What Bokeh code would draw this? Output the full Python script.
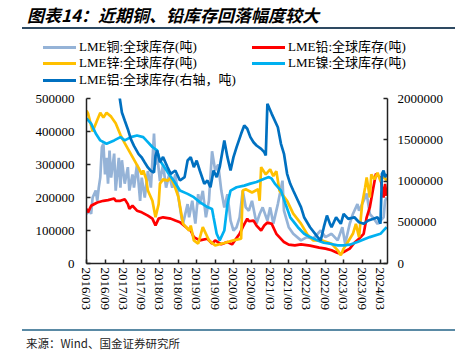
from datetime import datetime
from bokeh.plotting import figure
from bokeh.layouts import column
from bokeh.models import (Range1d, LinearAxis, FixedTicker, NumeralTickFormatter,
                          DatetimeTickFormatter, Div)
from bokeh.embed import file_html
from bokeh.resources import INLINE

# ---------------- data (thousand tonnes; aluminium on right axis) ----------------
copper_dates = ["2016-03-01","2016-04-01","2016-04-16","2016-05-01","2016-06-01","2016-06-16","2016-07-01","2016-07-16",
    "2016-08-01","2016-08-16","2016-09-01","2016-09-16","2016-10-01","2016-10-16","2016-11-01","2016-12-01","2016-12-16",
    "2017-01-16","2017-02-01","2017-02-16","2017-03-16","2017-04-16","2017-05-01","2017-06-01","2017-06-16","2017-07-16",
    "2017-08-16","2017-09-01","2017-10-01","2017-11-01","2017-12-01","2018-01-01","2018-01-16","2018-02-01","2018-03-01",
    "2018-04-01","2018-05-01","2018-06-01","2018-07-01","2018-08-01","2018-09-01","2018-10-01","2018-10-16","2018-12-01",
    "2018-12-16","2019-01-16","2019-02-16","2019-03-16","2019-04-01","2019-05-01","2019-06-01","2019-07-01","2019-08-01",
    "2019-09-01","2019-10-01","2019-11-01","2019-12-01","2020-01-01","2020-02-01","2020-03-01","2020-04-01","2020-05-01",
    "2020-06-01","2020-07-01","2020-08-01","2020-09-01","2020-10-16","2020-11-16","2020-12-16","2021-02-01","2021-03-01",
    "2021-04-01","2021-05-16","2021-07-01","2021-07-16","2021-09-01","2021-10-16","2022-01-01","2022-03-01","2022-05-01",
    "2022-07-16","2022-09-01","2022-11-01","2023-01-01","2023-02-16","2023-03-16","2023-05-01","2023-06-01","2023-07-16",
    "2023-08-01","2023-09-16","2023-10-16","2023-11-16","2023-12-16","2024-02-01","2024-03-01","2024-04-01","2024-04-16",
    "2024-05-01"]
copper_vals = [151,160,150,200,221,190,230,261,352,363,270,320,242,342,260,333,221,
    320,230,313,242,292,221,270,230,300,190,260,200,280,230,394,300,330,250,
    300,230,270,230,270,200,140,121,180,140,190,121,210,180,220,140,190,340,
    282,300,221,170,210,130,100,110,140,221,170,160,190,121,150,170,130,170,
    121,180,251,160,110,90,70,80,75,100,80,90,70,110,60,121,150,180,
    160,190,212,150,140,120,130,140,190,200]

lead_dates = ["2016-03-01","2016-03-16","2016-04-16","2016-06-16","2016-08-16","2016-10-01","2016-12-01","2016-12-16",
    "2017-02-01","2017-03-16","2017-04-16","2017-05-01","2017-06-01","2017-07-16","2017-09-01","2017-11-01","2017-12-16",
    "2018-01-16","2018-02-16","2018-04-01","2018-06-16","2018-08-01","2018-09-16","2018-12-01","2019-01-01","2019-02-01",
    "2019-04-01","2019-06-16","2019-08-01","2019-09-01","2019-11-01","2020-01-01","2020-02-16","2020-05-01","2020-06-01",
    "2020-07-16","2020-08-01","2020-09-16","2020-10-16","2020-12-01","2021-01-01","2021-02-01","2021-03-16","2021-05-01",
    "2021-07-16","2021-09-01","2021-11-01","2022-01-01","2022-04-01","2022-07-01","2022-09-01","2022-11-01","2023-01-01",
    "2023-02-01","2023-03-01","2023-05-01","2023-06-16","2023-08-01","2023-09-16","2023-10-16","2023-11-16","2023-12-16",
    "2024-01-16","2024-03-01","2024-04-01","2024-04-16","2024-05-01"]
lead_vals = [166,155,175,185,190,192,197,190,190,195,180,166,175,160,155,145,136,
    115,136,140,136,130,125,106,100,80,70,75,60,70,58,65,58,90,110,
    136,128,130,115,100,115,124,120,90,65,57,55,58,54,48,45,40,32,
    30,35,45,63,75,90,140,170,221,272,260,200,241,205]

zinc_dates = ["2016-03-01","2016-03-16","2016-05-01","2016-06-16","2016-07-16","2016-08-16","2016-09-16","2016-11-01",
    "2016-12-16","2017-02-01","2017-03-16","2017-05-01","2017-06-16","2017-08-01","2017-09-01","2017-09-16","2017-10-16",
    "2017-11-01","2017-12-16","2018-01-16","2018-02-16","2018-03-01","2018-04-01","2018-05-16","2018-06-16","2018-07-16",
    "2018-09-01","2018-10-16","2018-12-16","2019-01-01","2019-02-01","2019-03-16","2019-05-01","2019-06-01","2019-07-01",
    "2019-09-01","2019-12-01","2020-03-01","2020-05-16","2020-06-01","2020-07-01","2020-09-01","2020-11-01","2020-11-16",
    "2020-12-01","2021-01-16","2021-03-01","2021-04-01","2021-05-01","2021-06-01","2021-08-16","2021-10-16","2022-01-01",
    "2022-03-01","2022-05-01","2022-08-01","2022-11-01","2023-01-01","2023-02-01","2023-03-01","2023-04-01","2023-06-01",
    "2023-07-01","2023-08-01","2023-09-01","2023-10-01","2023-10-16","2023-11-16","2023-12-01","2024-01-01","2024-02-01",
    "2024-03-01","2024-04-01","2024-05-01"]
zinc_vals = [463,455,400,435,457,442,457,445,
    425,390,365,340,315,290,270,282,255,
    221,190,140,180,242,255,251,260,242,
    201,121,100,115,70,60,110,90,70,
    55,62,70,75,221,225,215,225,190,
    292,270,285,265,280,221,190,151,121,
    90,70,70,60,40,25,45,60,90,
    120,80,180,231,261,200,270,255,275,
    250,265,251]

nickel_dates = ["2016-03-01","2016-04-16","2016-06-01","2016-07-16","2016-09-16","2016-12-01","2017-02-01","2017-03-16",
    "2017-05-16","2017-07-16","2017-09-16","2017-10-16","2017-12-16","2018-02-01","2018-03-01","2018-05-16","2018-07-16",
    "2018-09-16","2018-12-01","2019-02-01","2019-04-01","2019-06-16","2019-08-01","2019-08-16","2019-09-16","2019-10-16",
    "2019-12-01","2020-01-01","2020-02-01","2020-04-01","2020-06-16","2020-08-16","2020-10-16","2021-01-01","2021-02-16",
    "2021-03-16","2021-04-16","2021-06-16","2021-08-01","2021-09-16","2021-12-01","2022-02-01","2022-04-01","2022-06-16",
    "2022-08-16","2022-10-16","2023-01-01","2023-03-01","2023-05-01","2023-07-16","2023-11-16","2024-03-01","2024-05-01"]
nickel_vals = [440,424,394,373,363,373,383,373,
    383,388,383,373,353,343,312,277,251,
    221,211,201,186,171,165,140,90,70,
    100,180,221,231,236,242,247,257,262,
    257,242,221,180,140,110,90,80,70,
    63,60,55,55,57,65,80,90,110]

alu_dates = ["2017-01-16","2017-02-16","2017-03-16","2017-04-16","2017-05-16","2017-06-16","2017-08-01","2017-09-01",
    "2017-10-01","2017-11-01","2017-12-01","2018-01-01","2018-01-16","2018-02-01","2018-03-01","2018-04-01","2018-05-16",
    "2018-06-16","2018-08-01","2018-09-16","2018-11-01","2018-12-01","2019-01-01","2019-02-01","2019-03-01","2019-04-01",
    "2019-05-16","2019-06-16","2019-07-16","2019-08-16","2019-09-16","2019-10-16","2019-12-01","2020-01-01","2020-02-01",
    "2020-03-01","2020-04-01","2020-05-16","2020-06-16","2020-07-16","2020-08-16","2020-09-16","2020-10-16","2020-12-01",
    "2021-01-01","2021-01-16","2021-02-01","2021-02-16","2021-03-16","2021-05-16","2021-06-16","2021-07-16","2021-08-16",
    "2021-09-16","2021-10-16","2021-12-01","2022-01-01","2022-02-01","2022-04-01","2022-06-16","2022-07-16","2022-08-16",
    "2022-09-16","2022-10-16","2022-11-01","2022-12-16","2023-02-01","2023-03-01","2023-04-16","2023-06-16","2023-08-01",
    "2023-09-16","2023-11-01","2023-12-16","2024-02-01","2024-03-01","2024-03-16","2024-04-01","2024-04-16","2024-05-01"]
alu_vals = [2080,1830,1733,1628,1507,1426,1325,1285,
    1224,1164,1123,1103,1305,1370,1228,1290,1167,
    1087,1127,1006,1047,1248,1289,1167,1248,1127,
    966,1006,925,1127,1047,1167,1491,1289,1127,
    1289,1410,1572,1673,1633,1532,1470,1430,1390,
    1350,1309,1936,1895,1814,1652,1451,1330,1087,
    966,885,764,683,561,440,319,279,440,
    582,480,440,561,481,602,541,561,500,
    481,521,540,561,481,1087,1127,1047,1087]

tick_labels = ["2016/03","2016/09","2017/03","2017/09","2018/03","2018/09","2019/03","2019/09","2020/03",
               "2020/09","2021/03","2021/09","2022/03","2022/09","2023/03","2023/09","2024/03"]
left_ticks = [0, 100000, 200000, 300000, 400000, 500000]
right_ticks = [0, 500000, 1000000, 1500000, 2000000]

names = ["LME铜:全球库存(吨)", "LME铅:全球库存(吨)", "LME锌:全球库存(吨)", "LME镍:全球库存(吨)", "LME铝:全球库存(右轴，吨)"]
colors = ["#95B3D7", "#FF0000", "#FFC000", "#00B0F0", "#0070C0"]
title_text = "图表14：近期铜、铅库存回落幅度较大"
source_text = "来源：Wind、国金证券研究所"

def d(s):
    return datetime.strptime(s, "%Y-%m-%d")

def ms(dt):
    return (dt - datetime(1970, 1, 1)).total_seconds() * 1000.0

W = 455
TOP_H, FIG_H, BOT_H = 90, 239, 30
serif = "'Liberation Serif'"
lw = 2.7

# ---------------- main chart ----------------
p = figure(width=W, height=FIG_H, x_axis_type="datetime", output_backend="svg", toolbar_location=None,
           x_range=Range1d(datetime(2016, 3, 1), datetime(2024, 5, 10)), y_range=Range1d(0, 500000),
           min_border_left=86, min_border_right=68, min_border_top=8, min_border_bottom=66)
p.extra_y_ranges = {"right": Range1d(0, 2000000)}
p.outline_line_color = None
p.xgrid.visible = False
p.ygrid.visible = False

def style_axis(ax):
    ax.axis_line_color = "#222222"
    ax.axis_line_width = 1.5
    ax.major_tick_line_color = "#222222"
    ax.major_tick_line_width = 1.5
    ax.major_tick_in = 4
    ax.major_tick_out = 0
    ax.minor_tick_line_color = None
    ax.major_label_text_font = serif
    ax.major_label_text_font_size = "13px"
    ax.major_label_text_color = "#000000"

xax = p.xaxis[0]
xax.ticker = FixedTicker(ticks=[ms(datetime.strptime(t, "%Y/%m")) for t in tick_labels])
fmt = "%Y/%m"
xax.formatter = DatetimeTickFormatter(years=fmt, months=fmt, days=fmt, hours=fmt, minutes=fmt,
                                      seconds=fmt, milliseconds=fmt, microseconds=fmt, hourmin=fmt, minsec=fmt)
xax.major_label_orientation = -1.5707963
xax.major_label_standoff = 4
style_axis(xax)

yax = p.yaxis[0]
yax.ticker = FixedTicker(ticks=left_ticks)
yax.formatter = NumeralTickFormatter(format="0")
yax.major_label_standoff = 12
style_axis(yax)

rax = LinearAxis(y_range_name="right", ticker=FixedTicker(ticks=right_ticks),
                 formatter=NumeralTickFormatter(format="0"))
rax.major_label_standoff = 10
style_axis(rax)
p.add_layout(rax, "right")

p.line([d(s) for s in copper_dates], [v * 1000 for v in copper_vals], color=colors[0], line_width=lw)
p.line([d(s) for s in lead_dates], [v * 1000 for v in lead_vals], color=colors[1], line_width=lw)
p.line([d(s) for s in zinc_dates], [v * 1000 for v in zinc_vals], color=colors[2], line_width=lw)
p.line([d(s) for s in nickel_dates], [v * 1000 for v in nickel_vals], color=colors[3], line_width=lw)
p.line([d(s) for s in alu_dates], [v * 1000 for v in alu_vals], color=colors[4], line_width=lw,
       y_range_name="right")

# ---------------- title, legend and source (HTML) ----------------
def legend_entry(i, x, cy):
    return ("<div style='position:absolute;left:%dpx;top:%dpx;width:33px;height:3px;background:%s;'></div>"
            "<div style='position:absolute;left:%dpx;top:%dpx;height:16px;line-height:16px;white-space:nowrap;"
            "font-family:\"Liberation Serif\",\"Noto Sans CJK SC\";font-size:13px;color:#000;'>%s</div>"
            % (x, cy - 1, colors[i], x + 36, cy - 8, names[i]))

legend_html = (legend_entry(0, 43, 47) + legend_entry(1, 252, 47) +
               legend_entry(2, 43, 63) + legend_entry(3, 252, 63) +
               legend_entry(4, 43, 80))

top_div = Div(width=W, height=TOP_H, margin=0, text=(
    "<div style='position:relative;width:455px;height:90px;'>"
    "<div style='position:absolute;left:27px;top:3px;font-family:\"Noto Sans CJK SC\";font-size:17px;"
    "font-weight:bold;font-style:italic;color:#000;white-space:nowrap;'>"
    + title_text + "</div>"
    "<div style='position:absolute;left:22px;top:27px;width:433px;height:0;border-top:2px solid #2E4A62;'></div>"
    + legend_html +
    "</div>"))
source_div = Div(width=W, height=BOT_H, margin=0, text=(
    "<div style='position:relative;width:455px;height:30px;'>"
    "<div style='position:absolute;left:22px;top:0px;width:433px;height:0;border-top:2px solid #5A8AA5;'></div>"
    "<div style='position:absolute;left:26px;top:6px;font-family:\"Noto Sans CJK SC\";font-size:11.5px;"
    "color:#222;white-space:nowrap;'>" + source_text + "</div>"
    "</div>"))

layout = column(top_div, p, source_div, spacing=0)
open("out.html", "w").write(file_html(layout, INLINE))
